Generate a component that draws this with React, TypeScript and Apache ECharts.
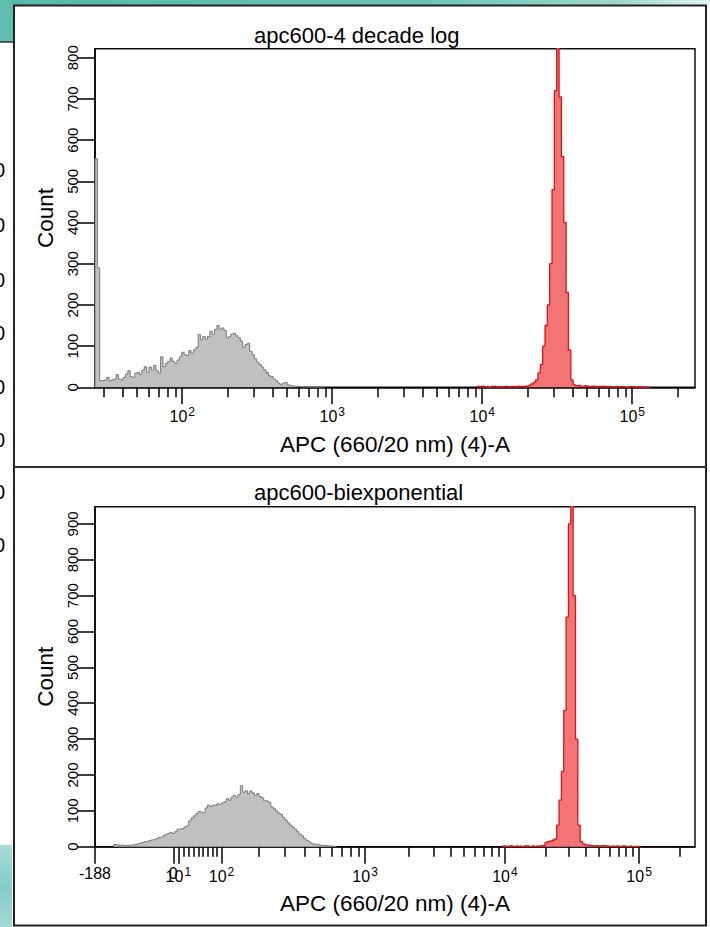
import { useEffect, useRef } from 'react';
import * as echarts from 'echarts';

// ---------- texts ----------
const topTitle = 'apc600-4 decade log';
const bottomTitle = 'apc600-biexponential';
const xName = 'APC (660/20 nm) (4)-A';
const yName = 'Count';

// ---------- scales ----------
const CHANNELS = 256;
const SCALE_TOP = 262144;
const LOG_DECADES = 4;
const BIEX_DECADES = 4.5;
const BIEX_WIDTH = 0.587;
const biexMinLabel = '-188';

const topYMax = 822;
const bottomYMax = 948;
const topYTicks = [0, 100, 200, 300, 400, 500, 600, 700, 800];
const bottomYTicks = [0, 100, 200, 300, 400, 500, 600, 700, 800, 900];

const majorDecades = [1, 2, 3, 4, 5];
const minorMultipliers = [2, 3, 4, 5, 6, 7, 8, 9];

// ---------- histogram data (counts per display channel) ----------
const topGrayStart = 0;
const topGrayCounts = [
  555, 290,
  16, 16, 18, 24, 15, 18, 20, 31, 20, 18, 24, 32, 40, 26, 24, 34, 36, 31,
  42, 50, 36, 49, 42, 53, 40, 34, 74, 50, 58, 63, 71, 63, 58, 66, 74, 85, 79, 77,
  89, 83, 91, 97, 128, 115, 123, 117, 123, 136, 129, 141, 150, 141, 144, 138, 120, 123, 129, 131,
  125, 120, 112, 97, 104, 107, 87, 79, 69, 61, 55, 49, 42, 36, 28, 26, 20, 16, 10, 6,
  10, 12, 6, 4, 3, 3, 2, 2, 1, 2, 1, 0, 1, 1, 0, 1, 0, 1,
];
const topRedStart = 163;
const topRedCounts = [
  2, 1, 3, 1, 2, 0, 2, 3, 1, 2, 1, 2, 3, 1, 2, 2, 1, 3, 2, 2, 3, 4, 5, 8,
  12, 18, 35, 55, 100, 150, 200, 300, 480, 720, 860, 705, 560, 400, 230, 90, 18, 6, 4,
  5, 3, 2, 4, 2, 1, 3, 2, 2, 1, 3, 2, 1, 2, 1, 0, 2, 1, 2, 1, 0, 1, 2, 1, 0, 1, 1, 0, 1, 0, 1,
];

const bottomGrayStart = 8;
const bottomGrayCounts = [
  6, 5, 4, 5, 3, 4, 4, 5, 4, 6, 8, 10, 12, 14, 15, 17, 19, 20, 23, 26,
  27, 31, 35, 37, 40, 37, 42, 49, 48, 50, 55, 58, 72, 80, 86, 92, 98, 96, 95, 108,
  116, 112, 116, 115, 120, 118, 122, 125, 134, 130, 138, 143, 138, 145, 170, 152, 156, 148, 155, 150,
  143, 148, 140, 136, 128, 127, 124, 111, 106, 100, 94, 90, 82, 74, 67, 60, 55, 49, 42, 35,
  30, 23, 18, 14, 9, 7, 6, 5, 4, 3, 3, 2, 2, 1, 1,
];
const bottomRedStart = 174;
const bottomRedCounts = [
  2, 1, 2, 3, 1, 2, 1, 2, 0, 2, 3, 1, 2, 1, 2, 1, 3, 2,
  12, 14, 16, 18, 22, 60, 130, 210, 380, 640, 900, 1150, 700, 300, 60, 14, 8, 5,
  4, 3, 2, 3, 2, 1, 3, 2, 2, 1, 2, 1, 2, 1, 0, 2, 1, 1, 2, 0, 1, 1, 0,
];

// ---------- styles ----------
const FONT = '"Liberation Sans", Arial, Helvetica, sans-serif';
const GRAY_LINE = '#7a7a7a';
const GRAY_FILL = '#c0c0c0';
const RED_LINE = '#e01218';
const RED_FILL = '#f27474';

// ---------- transforms ----------
const logChannel = (v: number) =>
  (Math.log10(v) - Math.log10(SCALE_TOP) + LOG_DECADES) * (CHANNELS / LOG_DECADES);

const LN10 = Math.log(10);
const bm = BIEX_DECADES * LN10;
const bw = BIEX_WIDTH * LN10;
const bp = (() => {
  let lo = 1.0001, hi = 100;
  for (let i = 0; i < 200; i++) {
    const mid = (lo + hi) / 2;
    const f = (2 * mid * Math.log(mid)) / (mid + 1);
    if (f < bw) lo = mid; else hi = mid;
  }
  return (lo + hi) / 2;
})();
function biexForward(y: number): number {
  if (y < bw) return -biexForward(2 * bw - y);
  const e = y - bw;
  return SCALE_TOP * Math.exp(-(bm - bw)) * (Math.exp(e) - bp * bp * Math.exp(-e / bp) + bp * bp - 1);
}
function biexChannel(v: number) {
  let lo = 0, hi = bm;
  for (let i = 0; i < 200; i++) {
    const mid = (lo + hi) / 2;
    if (biexForward(mid) < v) lo = mid; else hi = mid;
  }
  return ((lo + hi) / 2 / bm) * CHANNELS;
}

const key = (c: number) => c.toFixed(6);

function buildTicks(toCh: (v: number) => number, lowVal: number, extra: { ch: number; label: string }[]) {
  const majors: number[] = [];
  const labels = new Map<string, string>();
  extra.forEach((e) => { majors.push(e.ch); labels.set(key(e.ch), e.label); });
  majorDecades.forEach((d) => {
    const v = Math.pow(10, d);
    if (v < lowVal || v > SCALE_TOP) return;
    const c = toCh(v);
    majors.push(c);
    labels.set(key(c), `{b|10}{s|${d}}`);
  });
  const minors: number[] = [];
  majorDecades.forEach((d) => {
    minorMultipliers.forEach((m) => {
      const v = m * Math.pow(10, d);
      if (v < lowVal || v > SCALE_TOP) return;
      minors.push(toCh(v));
    });
  });
  return { majors, minors, labels };
}

const topTicks = buildTicks(logChannel, SCALE_TOP / Math.pow(10, LOG_DECADES), []);
const bottomTicks = buildTicks(biexChannel, 10, [
  { ch: 0, label: `{b|${biexMinLabel}}` },
  { ch: biexChannel(0), label: '{b|0}' },
]);

function stepData(start: number, counts: number[]) {
  const d: number[][] = [[start, 0]];
  counts.forEach((c, i) => d.push([start + i, c]));
  d.push([start + counts.length, 0]);
  return d;
}

const rich = {
  b: { fontSize: 16, fontFamily: FONT, color: '#000' },
  s: { fontSize: 12, fontFamily: FONT, color: '#000', padding: [0, 0, 9, 1] },
};

function majorXAxis(gridIndex: number, t: ReturnType<typeof buildTicks>, nameGap: number) {
  return {
    type: 'value', gridIndex, min: 0, max: CHANNELS, position: 'bottom',
    name: xName, nameLocation: 'middle', nameGap,
    nameTextStyle: { fontSize: 22.5, fontFamily: FONT, color: '#000' },
    axisLine: { show: true, onZero: false, lineStyle: { color: '#000', width: 1.5 } },
    axisTick: { show: true, inside: false, length: 17, customValues: t.majors, lineStyle: { color: '#000', width: 1.5 } },
    axisLabel: {
      show: true, customValues: t.majors, margin: 19, rich,
      formatter: (v: number) => t.labels.get(key(v)) ?? '',
    },
    splitLine: { show: false },
  };
}
function minorXAxis(gridIndex: number, t: ReturnType<typeof buildTicks>) {
  return {
    type: 'value', gridIndex, min: 0, max: CHANNELS, position: 'bottom',
    axisLine: { show: false, onZero: false },
    axisTick: { show: true, inside: false, length: 10, customValues: t.minors, lineStyle: { color: '#000', width: 1.5 } },
    axisLabel: { show: false },
    splitLine: { show: false },
  };
}
function yAxis(gridIndex: number, max: number, ticks: number[]) {
  return {
    type: 'value', gridIndex, min: 0, max, position: 'left',
    name: yName, nameLocation: 'middle', nameGap: 37, nameRotate: 90,
    nameTextStyle: { fontSize: 22.5, fontFamily: FONT, color: '#000' },
    axisLine: { show: true, onZero: false, lineStyle: { color: '#000', width: 1.5 } },
    axisTick: { show: true, inside: false, length: 18, customValues: ticks, lineStyle: { color: '#000', width: 1.5 } },
    axisLabel: { show: true, customValues: ticks, rotate: 90, margin: 15, fontSize: 15, fontFamily: FONT, color: '#000' },
    splitLine: { show: false },
  };
}
function histSeries(xAxisIndex: number, yAxisIndex: number, start: number, counts: number[], line: string, fill: string, width: number) {
  return {
    type: 'line', xAxisIndex, yAxisIndex, data: stepData(start, counts), step: 'end',
    symbol: 'none', showSymbol: false, silent: true, clip: true,
    lineStyle: { color: line, width }, areaStyle: { color: fill, opacity: 1 },
  };
}

const sideZeroYs = [170, 225, 280, 333, 387, 440, 492, 545];

export default function App() {
  const ref = useRef<HTMLDivElement>(null);
  useEffect(() => {
    document.body.style.margin = '0';
    const chart = echarts.init(ref.current!, undefined, { renderer: 'svg' });
    const graphic: any[] = [
      {
        type: 'rect', shape: { x: 0, y: 0, width: 710, height: 5 }, silent: true,
        style: { fill: new echarts.graphic.LinearGradient(0, 0, 1, 0, [
          { offset: 0, color: '#56b8a8' }, { offset: 0.6, color: '#6cc4b6' },
          { offset: 0.88, color: '#9fd8cf' }, { offset: 1, color: '#e2f3f0' },
        ]) },
      },
      { type: 'rect', shape: { x: 0, y: 0, width: 13, height: 42 }, silent: true, style: { fill: '#5fbdae' } },
      { type: 'line', shape: { x1: 0, y1: 42, x2: 13, y2: 42 }, silent: true, style: { stroke: '#333', lineWidth: 1.5 } },
      {
        type: 'rect', shape: { x: 0, y: 845, width: 12, height: 82 }, silent: true,
        style: { fill: new echarts.graphic.LinearGradient(0, 0, 0, 1, [
          { offset: 0, color: '#a9dcd8' }, { offset: 0.5, color: '#86cbc7' }, { offset: 1, color: '#a3d8d4' },
        ]) },
      },
      { type: 'rect', shape: { x: 14, y: 5.5, width: 692, height: 920 }, silent: true, style: { fill: 'none', stroke: '#222', lineWidth: 2 } },
      { type: 'line', shape: { x1: 14, y1: 467, x2: 706, y2: 467 }, silent: true, style: { stroke: '#333', lineWidth: 2 } },
      { type: 'text', x: 254, y: 35, silent: true, style: { text: topTitle, fontSize: 22, fontFamily: FONT, fill: '#000', verticalAlign: 'middle', align: 'left' } },
      { type: 'text', x: 254, y: 492.3, silent: true, style: { text: bottomTitle, fontSize: 22, fontFamily: FONT, fill: '#000', verticalAlign: 'middle', align: 'left' } },
      ...sideZeroYs.map((y) => ({
        type: 'text', x: -6, y, silent: true,
        style: { text: '0', fontSize: 20, fontFamily: FONT, fill: '#000', verticalAlign: 'middle', align: 'left' },
      })),
    ];
    chart.setOption({
      animation: false,
      backgroundColor: '#fff',
      graphic,
      grid: [
        { left: 95, top: 48.7, width: 600, height: 338.6, show: true, borderColor: '#111', borderWidth: 1.5, backgroundColor: 'transparent' },
        { left: 95, top: 506.7, width: 600, height: 340, show: true, borderColor: '#111', borderWidth: 1.5, backgroundColor: 'transparent' },
      ],
      xAxis: [
        majorXAxis(0, topTicks, 46),
        minorXAxis(0, topTicks),
        majorXAxis(1, bottomTicks, 45),
        minorXAxis(1, bottomTicks),
      ],
      yAxis: [yAxis(0, topYMax, topYTicks), yAxis(1, bottomYMax, bottomYTicks)],
      series: [
        histSeries(0, 0, topGrayStart, topGrayCounts, GRAY_LINE, GRAY_FILL, 1),
        histSeries(0, 0, topRedStart, topRedCounts, RED_LINE, RED_FILL, 1.3),
        histSeries(2, 1, bottomGrayStart, bottomGrayCounts, GRAY_LINE, GRAY_FILL, 1),
        histSeries(2, 1, bottomRedStart, bottomRedCounts, RED_LINE, RED_FILL, 1.3),
      ],
    });
    return () => chart.dispose();
  }, []);
  return <div ref={ref} style={{ position: 'absolute', left: 0, top: 0, width: 710, height: 927 }} />;
}
